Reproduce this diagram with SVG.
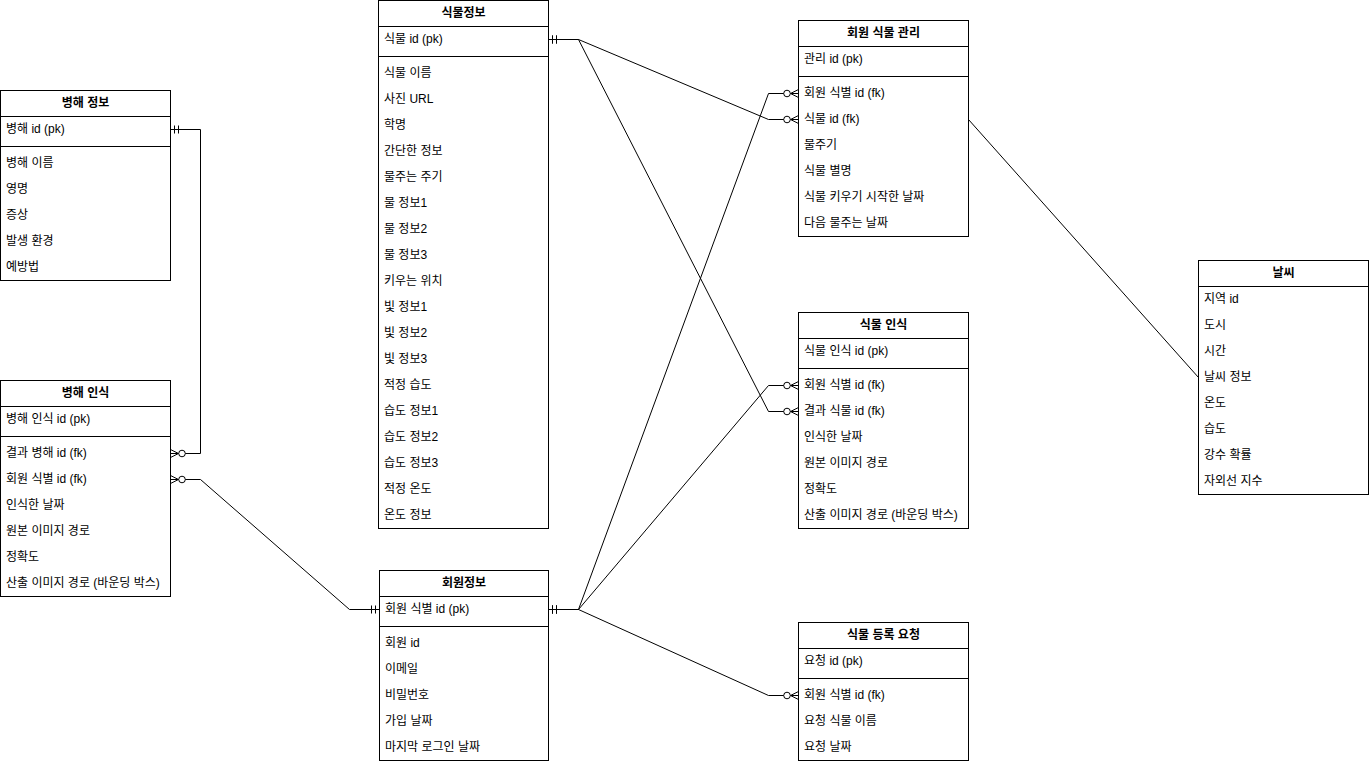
<svg xmlns="http://www.w3.org/2000/svg" width="1369" height="764" viewBox="0 0 1369 764">
<style>
.box{fill:#fff;stroke:#000;stroke-width:1}
.sep{stroke:#000;stroke-width:1}
.t{font-family:"Liberation Sans","Noto Sans CJK KR",sans-serif;font-size:12px;fill:#000;dominant-baseline:central}
.h{font-weight:bold;text-anchor:middle}
.c{fill:none;stroke:#000;stroke-width:1}
</style>
<defs>
<marker id="one" markerUnits="userSpaceOnUse" markerWidth="22" markerHeight="22" refX="20" refY="10" orient="auto-start-reverse" overflow="visible">
<path d="M16,6V14M12,6V14" stroke="#000" stroke-width="1" fill="none"/>
</marker>
<marker id="many" markerUnits="userSpaceOnUse" markerWidth="22" markerHeight="22" refX="20" refY="10" orient="auto-start-reverse" overflow="visible">
<path d="M20,6L12,10L20,14M12,10H20" stroke="#000" stroke-width="1" fill="none"/>
<circle cx="8.5" cy="10" r="3.3" fill="#fff" stroke="#000" stroke-width="1"/>
</marker>
</defs>
<rect width="1369" height="764" fill="#fff"/>

<g id="connectors">
<path class="c" d="M548.5,39.5H578.5L768.5,119.5H798.5" marker-start="url(#one)" marker-end="url(#many)"/>
<path class="c" d="M548.5,39.5H578.5L768.5,411.5H798.5" marker-start="url(#one)" marker-end="url(#many)"/>
<path class="c" d="M548.5,609.5H578.5L768.5,93.5H798.5" marker-start="url(#one)" marker-end="url(#many)"/>
<path class="c" d="M548.5,609.5H578.5L768.5,385.5H798.5" marker-start="url(#one)" marker-end="url(#many)"/>
<path class="c" d="M548.5,609.5H578.5L768.5,695.5H798.5" marker-start="url(#one)" marker-end="url(#many)"/>
<path class="c" d="M170.5,129.5H200.5V453.5H170.5" marker-start="url(#one)" marker-end="url(#many)"/>
<path class="c" d="M379.5,609.5H349.5L200.5,479.5H170.5" marker-start="url(#one)" marker-end="url(#many)"/>
<path class="c" d="M968.5,119.5L1198.5,377.5"/>
</g>

<g id="plant-info">
<rect class="box" x="378.5" y="0.5" width="170" height="528"/>
<line class="sep" x1="378.5" y1="26.5" x2="548.5" y2="26.5"/>
<line class="sep" x1="378.5" y1="56.5" x2="548.5" y2="56.5"/>
<text class="t h" x="463.5" y="13">식물정보</text>
<text class="t" x="384" y="39">식물 id (pk)</text>
<text class="t" x="384" y="73">식물 이름</text>
<text class="t" x="384" y="99">사진 URL</text>
<text class="t" x="384" y="125">학명</text>
<text class="t" x="384" y="151">간단한 정보</text>
<text class="t" x="384" y="177">물주는 주기</text>
<text class="t" x="384" y="203">물 정보1</text>
<text class="t" x="384" y="229">물 정보2</text>
<text class="t" x="384" y="255">물 정보3</text>
<text class="t" x="384" y="281">키우는 위치</text>
<text class="t" x="384" y="307">빛 정보1</text>
<text class="t" x="384" y="333">빛 정보2</text>
<text class="t" x="384" y="359">빛 정보3</text>
<text class="t" x="384" y="385">적정 습도</text>
<text class="t" x="384" y="411">습도 정보1</text>
<text class="t" x="384" y="437">습도 정보2</text>
<text class="t" x="384" y="463">습도 정보3</text>
<text class="t" x="384" y="489">적정 온도</text>
<text class="t" x="384" y="515">온도 정보</text>
</g>

<g id="disease-info">
<rect class="box" x="0.5" y="90.5" width="170" height="190"/>
<line class="sep" x1="0.5" y1="116.5" x2="170.5" y2="116.5"/>
<line class="sep" x1="0.5" y1="146.5" x2="170.5" y2="146.5"/>
<text class="t h" x="85.5" y="103">병해 정보</text>
<text class="t" x="6" y="129">병해 id (pk)</text>
<text class="t" x="6" y="163">병해 이름</text>
<text class="t" x="6" y="189">영명</text>
<text class="t" x="6" y="215">증상</text>
<text class="t" x="6" y="241">발생 환경</text>
<text class="t" x="6" y="267">예방법</text>
</g>

<g id="disease-recognition">
<rect class="box" x="0.5" y="380.5" width="170" height="216"/>
<line class="sep" x1="0.5" y1="406.5" x2="170.5" y2="406.5"/>
<line class="sep" x1="0.5" y1="436.5" x2="170.5" y2="436.5"/>
<text class="t h" x="85.5" y="393">병해 인식</text>
<text class="t" x="6" y="419">병해 인식 id (pk)</text>
<text class="t" x="6" y="453">결과 병해 id (fk)</text>
<text class="t" x="6" y="479">회원 식별 id (fk)</text>
<text class="t" x="6" y="505">인식한 날짜</text>
<text class="t" x="6" y="531">원본 이미지 경로</text>
<text class="t" x="6" y="557">정확도</text>
<text class="t" x="6" y="583">산출 이미지 경로 (바운딩 박스)</text>
</g>

<g id="member-info">
<rect class="box" x="379.5" y="570.5" width="169" height="190"/>
<line class="sep" x1="379.5" y1="596.5" x2="548.5" y2="596.5"/>
<line class="sep" x1="379.5" y1="626.5" x2="548.5" y2="626.5"/>
<text class="t h" x="464" y="583">회원정보</text>
<text class="t" x="385" y="609">회원 식별 id (pk)</text>
<text class="t" x="385" y="643">회원 id</text>
<text class="t" x="385" y="669">이메일</text>
<text class="t" x="385" y="695">비밀번호</text>
<text class="t" x="385" y="721">가입 날짜</text>
<text class="t" x="385" y="747">마지막 로그인 날짜</text>
</g>

<g id="member-plant">
<rect class="box" x="798.5" y="20.5" width="170" height="216"/>
<line class="sep" x1="798.5" y1="46.5" x2="968.5" y2="46.5"/>
<line class="sep" x1="798.5" y1="76.5" x2="968.5" y2="76.5"/>
<text class="t h" x="883.5" y="33">회원 식물 관리</text>
<text class="t" x="804" y="59">관리 id (pk)</text>
<text class="t" x="804" y="93">회원 식별 id (fk)</text>
<text class="t" x="804" y="119">식물 id (fk)</text>
<text class="t" x="804" y="145">물주기</text>
<text class="t" x="804" y="171">식물 별명</text>
<text class="t" x="804" y="197">식물 키우기 시작한 날짜</text>
<text class="t" x="804" y="223">다음 물주는 날짜</text>
</g>

<g id="plant-recognition">
<rect class="box" x="798.5" y="312.5" width="170" height="216"/>
<line class="sep" x1="798.5" y1="338.5" x2="968.5" y2="338.5"/>
<line class="sep" x1="798.5" y1="368.5" x2="968.5" y2="368.5"/>
<text class="t h" x="883.5" y="325">식물 인식</text>
<text class="t" x="804" y="351">식물 인식 id (pk)</text>
<text class="t" x="804" y="385">회원 식별 id (fk)</text>
<text class="t" x="804" y="411">결과 식물 id (fk)</text>
<text class="t" x="804" y="437">인식한 날짜</text>
<text class="t" x="804" y="463">원본 이미지 경로</text>
<text class="t" x="804" y="489">정확도</text>
<text class="t" x="804" y="515">산출 이미지 경로 (바운딩 박스)</text>
</g>

<g id="plant-request">
<rect class="box" x="798.5" y="622.5" width="170" height="138"/>
<line class="sep" x1="798.5" y1="648.5" x2="968.5" y2="648.5"/>
<line class="sep" x1="798.5" y1="678.5" x2="968.5" y2="678.5"/>
<text class="t h" x="883.5" y="635">식물 등록 요청</text>
<text class="t" x="804" y="661">요청 id (pk)</text>
<text class="t" x="804" y="695">회원 식별 id (fk)</text>
<text class="t" x="804" y="721">요청 식물 이름</text>
<text class="t" x="804" y="747">요청 날짜</text>
</g>

<g id="weather">
<rect class="box" x="1198.5" y="260.5" width="170" height="234"/>
<line class="sep" x1="1198.5" y1="286.5" x2="1368.5" y2="286.5"/>
<text class="t h" x="1283.5" y="273">날씨</text>
<text class="t" x="1204" y="299">지역 id</text>
<text class="t" x="1204" y="325">도시</text>
<text class="t" x="1204" y="351">시간</text>
<text class="t" x="1204" y="377">날씨 정보</text>
<text class="t" x="1204" y="403">온도</text>
<text class="t" x="1204" y="429">습도</text>
<text class="t" x="1204" y="455">강수 확률</text>
<text class="t" x="1204" y="481">자외선 지수</text>
</g>
</svg>
